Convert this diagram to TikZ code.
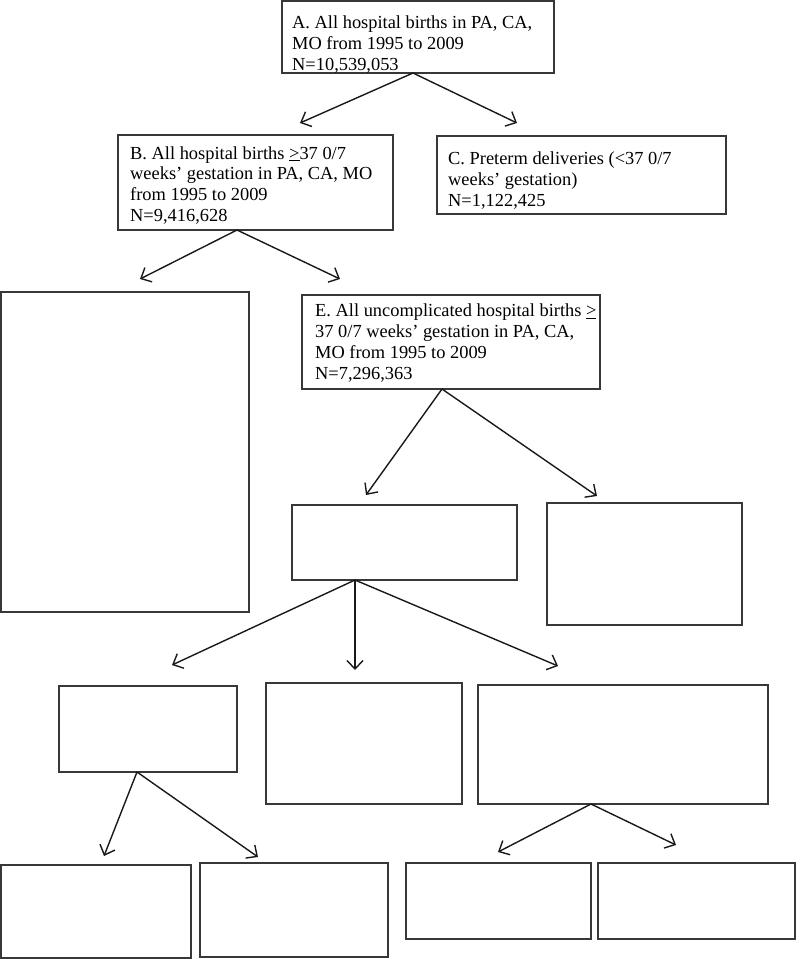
\documentclass[tikz,border=0pt]{standalone}
\usepackage{fontspec}
\setmainfont{Liberation Serif}
\usetikzlibrary{arrows.meta,calc}
\begin{document}
\begin{tikzpicture}[x=1pt,y=-1pt,
  box/.style={draw=black!78, line width=1.1pt, anchor=north west, inner sep=0pt, outer sep=0pt},
  txt/.style={anchor=base west, inner sep=0pt, align=left, font=\fontsize{18.4}{20.8}\selectfont},
  arr/.style={draw=black!90, line width=1.4pt, -{Straight Barb[length=8.5pt,width=16pt,line width=1.4pt]}}]
\useasboundingbox (0,0) rectangle (800,959);
% boxes
\node[box, minimum width=272pt, minimum height=72pt] (A) at (282,1) {};
\node[box, minimum width=275pt, minimum height=95pt] (B) at (118,135) {};
\node[box, minimum width=289pt, minimum height=78pt] (C) at (437,136) {};
\node[box, minimum width=248pt, minimum height=320pt] (D) at (1,292) {};
\node[box, minimum width=298pt, minimum height=94pt] (E) at (302,295) {};
\node[box, minimum width=225pt, minimum height=75pt] (F) at (292,505) {};
\node[box, minimum width=195pt, minimum height=122pt] (G) at (547,503) {};
\node[box, minimum width=178pt, minimum height=86pt] (H) at (59,686) {};
\node[box, minimum width=196pt, minimum height=121pt] (I) at (266,683) {};
\node[box, minimum width=290pt, minimum height=119pt] (J) at (478,685) {};
\node[box, minimum width=190pt, minimum height=93pt] (K) at (1,865) {};
\node[box, minimum width=188pt, minimum height=94pt] (L) at (200,863) {};
\node[box, minimum width=185pt, minimum height=76pt] (M) at (406,863) {};
\node[box, minimum width=197pt, minimum height=76pt] (N) at (598,863) {};
% texts (anchored at the baseline of the last line)
\node[txt] (At) at (292,70.4) {A. All hospital births in PA, CA,\\MO from 1995 to 2009\\N=10,539,053};
\node[txt] (Bt) at (130,221.5) {B. All hospital births \underline{>}37 0/7\\weeks’ gestation in PA, CA, MO\\from 1995 to 2009\\N=9,416,628};
\node[txt] (Ct) at (448,206.4) {C. Preterm deliveries (<37 0/7\\weeks’ gestation)\\N=1,122,425};
\node[txt] (Et) at (315,379) {E. All uncomplicated hospital births \underline{>}\\37 0/7 weeks’ gestation in PA, CA,\\MO from 1995 to 2009\\N=7,296,363};
% arrow origins
\coordinate (Ao) at ($(A.south west)+(131,0)$);
\coordinate (Bo) at ($(B.south west)+(119,0)$);
\coordinate (Eo) at ($(E.south west)+(140,0)$);
\coordinate (Fo) at ($(F.south west)+(63,0)$);
\coordinate (Ho) at ($(H.south west)+(78,0)$);
\coordinate (Jo) at ($(J.south west)+(113,0)$);
% arrow tips
\coordinate (tAB) at (300,123);
\coordinate (tAC) at (517,123);
\coordinate (tBD) at (140,279);
\coordinate (tBE) at (340,279);
\coordinate (tEF) at (366,495);
\coordinate (tEG) at (597,496);
\coordinate (tFH) at (172,665);
\coordinate (tFI) at (355,670);
\coordinate (tFJ) at (558,666);
\coordinate (tHK) at (104,856);
\coordinate (tHL) at (258,857);
\coordinate (tJM) at (498,852);
\coordinate (tJN) at (676,845);
% connectors
\draw[arr] (Ao) -- (tAB);
\draw[arr] (Ao) -- (tAC);
\draw[arr] (Bo) -- (tBD);
\draw[arr] (Bo) -- (tBE);
\draw[arr] (Eo) -- (tEF);
\draw[arr] (Eo) -- (tEG);
\draw[arr] (Fo) -- (tFH);
\draw[arr] (Fo) -- (tFI);
\draw[arr] (Fo) -- (tFJ);
\draw[arr] (Ho) -- (tHK);
\draw[arr] (Ho) -- (tHL);
\draw[arr] (Jo) -- (tJM);
\draw[arr] (Jo) -- (tJN);
\end{tikzpicture}
\end{document}
